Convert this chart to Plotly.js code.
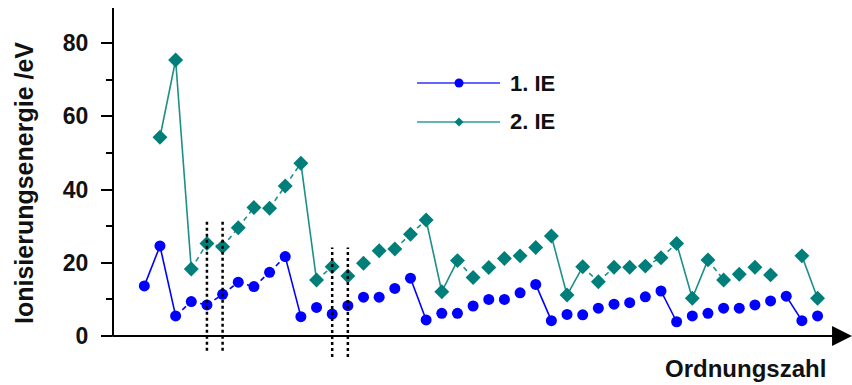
<!DOCTYPE html>
<html>
<head>
<meta charset="utf-8">
<script src="https://cdn.plot.ly/plotly-3.0.1.min.js"></script>
<style>html,body{margin:0;padding:0;background:#fff;}#chart{width:852px;height:385px;}</style>
</head>
<body>
<div id="chart"></div>
<script>
// Elements (transition metals omitted, as in the reference)
var elements = ['H','He','Li','Be','B','C','N','O','F','Ne','Na','Mg','Al','Si','P','S','Cl','Ar','K','Ca','Ga','Ge','As','Se','Br','Kr','Rb','Sr','In','Sn','Sb','Te','I','Xe','Cs','Ba','Tl','Pb','Bi','Po','At','Rn','Fr','Ra'];
// 1st ionisation energy /eV
var ie1 = [13.7,24.6,5.5,9.4,8.5,11.4,14.7,13.5,17.4,21.7,5.3,7.8,6.0,8.3,10.6,10.6,13.0,15.8,4.4,6.2,6.2,8.2,10.0,10.0,11.8,14.1,4.2,5.9,5.8,7.6,8.7,9.1,10.7,12.3,3.9,5.5,6.2,7.6,7.6,8.5,9.6,10.9,4.2,5.5];
// 2nd ionisation energy /eV
var ie2 = [null,54.3,75.4,18.3,25.3,24.4,29.6,35.1,34.9,41.0,47.2,15.3,18.9,16.4,19.9,23.3,23.8,27.8,31.7,12.1,20.6,16.0,18.7,21.2,21.9,24.2,27.3,11.2,18.9,14.8,18.8,18.8,19.1,21.4,25.3,10.3,20.8,15.3,16.9,18.8,16.7,null,21.9,10.3];
var seriesNames = ['1. IE','2. IE'];
// segment styles (index pairs into elements)
var solid1 = [[0,1],[1,2],[9,10],[17,18],[25,26],[33,34],[41,42]];
var dashed1 = [[2,3],[3,4],[4,5],[5,6],[6,7],[7,8],[8,9]];
var solid2 = [[1,2],[2,3],[10,11],[18,19],[19,20],[26,27],[27,28],[34,35],[35,36],[42,43]];
var dashed2 = [[3,4],[4,5],[5,6],[6,7],[7,8],[8,9],[9,10],[11,12],[16,17],[17,18],[20,21],[28,29],[29,30],[32,33],[33,34],[36,37]];
// guide lines (element, bottom, top)
var guideEls = ['B','C','Al','Si'];
var guideLow = [-4,-4,-5.7,-5.7];
var guideHigh = [31.7,31.7,24.2,24.2];

var BLUE = '#0000FF', TEAL = '#007F7A', TEAL_LINE = '#1E8F88';
var FONT = 'Liberation Sans, Arial, Helvetica, sans-serif';

function segTrace(pairs, vals, color, dash){
  var x=[], y=[];
  pairs.forEach(function(p){
    x.push(elements[p[0]], elements[p[1]], elements[p[1]]);
    y.push(vals[p[0]], vals[p[1]], null);
  });
  return {type:'scatter', mode:'lines', x:x, y:y, connectgaps:false, hoverinfo:'skip', showlegend:false,
          line:{color:color, width:1.6, dash:dash}};
}

var traces = [];
traces.push(segTrace(dashed2, ie2, TEAL_LINE, '5px,4px'));
traces.push(segTrace(solid2, ie2, TEAL_LINE, 'solid'));
traces.push(segTrace(dashed1, ie1, BLUE, '5px,4px'));
traces.push(segTrace(solid1, ie1, BLUE, 'solid'));
// markers
traces.push({type:'scatter', mode:'markers', name:seriesNames[1], x:elements, y:ie2, showlegend:false,
  marker:{symbol:'diamond', size:11.5, color:TEAL}});
traces.push({type:'scatter', mode:'markers', name:seriesNames[0], x:elements, y:ie1, showlegend:false,
  marker:{symbol:'circle', size:11, color:BLUE}});

var shapes = [];
// y axis line
shapes.push({type:'line', xref:'paper', yref:'y', x0:0, x1:0, y0:0, y1:89.6, line:{color:'#000', width:2}});
// x axis line with arrow
shapes.push({type:'line', xref:'paper', yref:'y', x0:-0.001, x1:0.975, y0:0, y1:0, line:{color:'#000', width:2}});
shapes.push({type:'path', xref:'paper', yref:'y', path:'M 0.973,2.75 L 1,0 L 0.973,-2.75 Z', fillcolor:'#000', line:{width:0}});
// guide dotted lines
guideEls.forEach(function(el,i){
  shapes.push({type:'line', xref:'x', yref:'y', x0:el, x1:el, y0:guideLow[i], y1:guideHigh[i],
    line:{color:'#000', width:2.5, dash:'dot'}});
});
// manual legend
var legY = [0.7857, 0.6743];
var legX0 = 0.4114, legX1 = 0.5237, legXm = 0.4682, legTx = 0.5345;
shapes.push({type:'line', xref:'paper', yref:'paper', x0:legX0, x1:legX1, y0:legY[0], y1:legY[0], line:{color:'#3030FF', width:1.6}});
shapes.push({type:'circle', xref:'paper', yref:'paper', xsizemode:'pixel', ysizemode:'pixel', xanchor:legXm, yanchor:legY[0],
  x0:-4.5, x1:4.5, y0:-4.5, y1:4.5, fillcolor:BLUE, line:{width:0}});
shapes.push({type:'line', xref:'paper', yref:'paper', x0:legX0, x1:legX1, y0:legY[1], y1:legY[1], line:{color:'#2E9E96', width:1.6}});
shapes.push({type:'path', xref:'paper', yref:'paper', xsizemode:'pixel', ysizemode:'pixel', xanchor:legXm, yanchor:legY[1],
  path:'M -4.5,0 L 0,4.5 L 4.5,0 L 0,-4.5 Z', fillcolor:TEAL, line:{width:0}});

var annotations = [
  {xref:'paper', yref:'paper', x:legTx, y:legY[0], xanchor:'left', yanchor:'middle', showarrow:false, text:seriesNames[0],
   font:{family:FONT, size:22, weight:700, color:'#111'}},
  {xref:'paper', yref:'paper', x:legTx, y:legY[1], xanchor:'left', yanchor:'middle', showarrow:false, text:seriesNames[1],
   font:{family:FONT, size:22, weight:700, color:'#111'}},
  {xref:'paper', yref:'paper', x:0.9675, y:-0.03, xanchor:'right', yanchor:'middle', showarrow:false, text:'Ordnungszahl',
   font:{family:FONT, size:24, weight:700, color:'#111'}}
];

var layout = {
  width:852, height:385,
  margin:{l:113, r:0, t:8, b:27, pad:0},
  paper_bgcolor:'#fff', plot_bgcolor:'#fff',
  showlegend:false,
  xaxis:{type:'category', categoryorder:'array', categoryarray:elements, range:[-2, 45.2], showline:false, showticklabels:false, ticks:'', showgrid:false, zeroline:false, fixedrange:true},
  yaxis:{range:[-6, 89.6], tick0:0, dtick:20, ticks:'outside', ticklen:11, tickwidth:2, tickcolor:'#000',
    showline:false, showgrid:false, zeroline:false, fixedrange:true, ticklabelstandoff:8,
    minor:{ticks:'outside', ticklen:6, tickwidth:2, tickcolor:'#000', dtick:10, showgrid:false},
    tickfont:{family:FONT, size:23, weight:700, color:'#111'},
    title:{text:'Ionisierungsenergie /eV', font:{family:FONT, size:25, weight:700, color:'#111'}, standoff:22}},
  shapes:shapes,
  annotations:annotations
};

Plotly.newPlot('chart', traces, layout, {displayModeBar:false, staticPlot:true});
</script>
</body>
</html>
